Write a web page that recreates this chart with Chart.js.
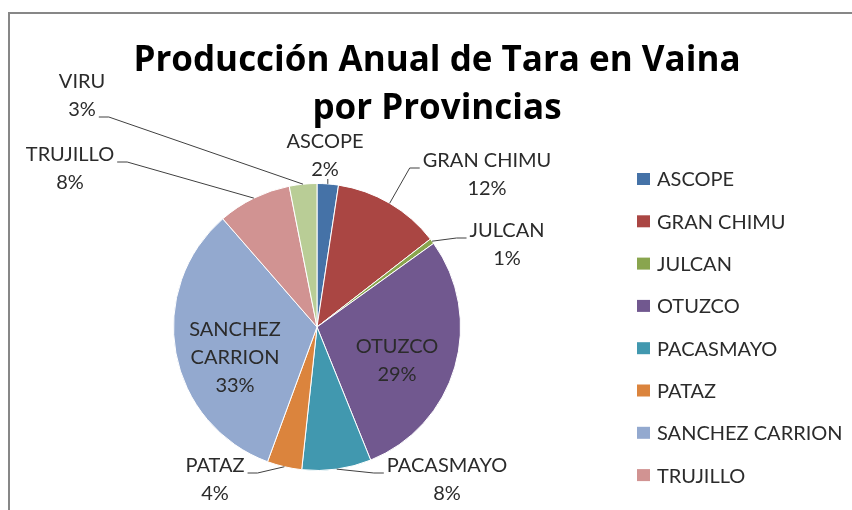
<!DOCTYPE html>
<html>
<head>
<meta charset="utf-8">
<script src="https://cdn.jsdelivr.net/npm/chart.js@4.4.0/dist/chart.umd.min.js"></script>
<style>
  html, body { margin: 0; padding: 0; background: #fff; overflow: hidden; }
  #wrap { position: relative; width: 852px; height: 510px; overflow: hidden; }
  #frame { position: absolute; left: 8px; top: 12px; width: 1000px; height: 1000px; border: 2px solid #878787; }
  canvas { position: absolute; left: 0; top: 0; }
</style>
</head>
<body>
<div id="wrap">
  <div id="frame"></div>
  <canvas id="chart" width="852" height="510"></canvas>
</div>
<script>
const provincias = ['ASCOPE', 'GRAN CHIMU', 'JULCAN', 'OTUZCO', 'PACASMAYO', 'PATAZ', 'SANCHEZ CARRION', 'TRUJILLO', 'VIRU'];
const produccion = [2.4, 12.1, 0.6, 28.8, 7.8, 3.9, 33.0, 8.3, 3.1];
const colores = ['#4572A7', '#AA4643', '#89A54E', '#71588F', '#4198AF', '#DB843D', '#93A9CF', '#D19392', '#B9CD96'];
const titulo = ['Producción Anual de Tara en Vaina', 'por Provincias'];

const FUENTE = 'Lato, "Open Sans", sans-serif';
const TEXTO = '#2b2b2b';

// where each label block sits, measured from the pie centre
const etiquetas = [
  { dx: 8, dy: -171, lead: 'bottom' },
  { dx: 170, dy: -152, lead: 'left', linea: 0 },
  { dx: 190, dy: -82, lead: 'left', linea: 0 },
  { dx: 80, dy: 34 },
  { dx: 130, dy: 153, lead: 'left', linea: 0 },
  { dx: -102, dy: 153, lead: 'right', linea: 0 },
  { dx: -82, dy: 31, partir: true },
  { dx: -247, dy: -158, lead: 'right', linea: 0 },
  { dx: -235, dy: -231, lead: 'right', linea: 1 }
];

const tituloPlugin = {
  id: 'titulo',
  afterDraw(chart) {
    const ctx = chart.ctx;
    ctx.save();
    ctx.font = 'bold 35px "Open Sans", sans-serif';
    ctx.fillStyle = '#000';
    ctx.textAlign = 'center';
    ctx.textBaseline = 'alphabetic';
    ctx.fillText(titulo[0], 437, 71);
    ctx.fillText(titulo[1], 437, 119);
    ctx.restore();
  }
};

const leyendaPlugin = {
  id: 'leyenda',
  afterDraw(chart) {
    const ctx = chart.ctx;
    ctx.save();
    ctx.font = '20px ' + FUENTE;
    ctx.textAlign = 'left';
    ctx.textBaseline = 'middle';
    provincias.forEach((p, i) => {
      const y = 179 + i * 42.3;
      ctx.fillStyle = colores[i];
      ctx.fillRect(637, y - 6, 13, 12);
      ctx.fillStyle = TEXTO;
      ctx.fillText(p, 657, y + 1);
    });
    ctx.restore();
  }
};

const etiquetasPlugin = {
  id: 'etiquetas',
  afterDatasetsDraw(chart) {
    const ctx = chart.ctx;
    const meta = chart.getDatasetMeta(0);
    const total = produccion.reduce((a, b) => a + b, 0);
    const lh = 28;
    ctx.save();
    ctx.font = '20px ' + FUENTE;
    ctx.fillStyle = TEXTO;
    ctx.strokeStyle = '#404040';
    ctx.lineWidth = 1;
    ctx.textAlign = 'center';
    ctx.textBaseline = 'middle';
    meta.data.forEach((arc, i) => {
      const p = arc.getProps(['x', 'y', 'startAngle', 'endAngle', 'outerRadius'], true);
      const conf = etiquetas[i];
      const pct = Math.round(produccion[i] / total * 100) + '%';
      const lineas = (conf.partir ? provincias[i].split(' ') : [provincias[i]]).concat([pct]);
      const cx = p.x + conf.dx;
      const cy = p.y + conf.dy;
      const top = cy - (lineas.length - 1) * lh / 2;
      lineas.forEach((t, k) => ctx.fillText(t, cx, top + k * lh));

      if (!conf.lead) return;
      const mid = (p.startAngle + p.endAngle) / 2;
      const ax = p.x + Math.cos(mid) * p.outerRadius;
      const ay = p.y + Math.sin(mid) * p.outerRadius;
      ctx.beginPath();
      if (conf.lead === 'bottom') {
        ctx.moveTo(ax, top + (lineas.length - 1) * lh + 9);
        ctx.lineTo(ax, ay);
      } else {
        const s = conf.lead === 'left' ? -1 : 1;
        const w = ctx.measureText(lineas[conf.linea]).width;
        const x0 = cx + s * (w / 2 + 3);
        const y0 = top + conf.linea * lh + 7;
        ctx.moveTo(x0, y0);
        ctx.lineTo(x0 + s * 10, y0);
        ctx.lineTo(ax, ay);
      }
      ctx.stroke();
    });
    ctx.restore();
  }
};

new Chart(document.getElementById('chart'), {
  type: 'pie',
  data: {
    labels: provincias,
    datasets: [{
      data: produccion,
      backgroundColor: colores,
      borderColor: '#ffffff',
      borderWidth: 1
    }]
  },
  options: {
    responsive: false,
    animation: false,
    layout: {
      padding: { left: 173, right: 391, top: 183, bottom: 39 }
    },
    plugins: {
      legend: { display: false },
      title: { display: false },
      tooltip: { enabled: false }
    }
  },
  plugins: [etiquetasPlugin, leyendaPlugin, tituloPlugin]
});
</script>
</body>
</html>
